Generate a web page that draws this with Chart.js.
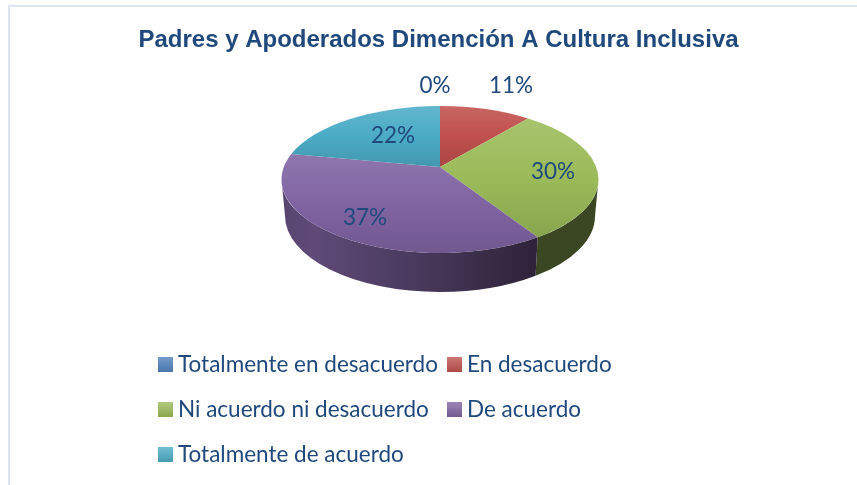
<!DOCTYPE html>
<html><head><meta charset="utf-8">
<style>html,body{margin:0;padding:0;background:#fff}#w{position:relative;width:857px;height:485px}</style>
<script src="https://cdn.jsdelivr.net/npm/chart.js@4"></script>
</head><body><div id="w"><canvas id="c" width="857" height="485"></canvas></div>
<script>
const categories = ['Totalmente en desacuerdo','En desacuerdo','Ni acuerdo ni desacuerdo','De acuerdo','Totalmente de acuerdo'];
const percentages = [0,11,30,37,22];
const sliceColors = ['#4F81BD','#C0504D','#9BBB59','#8064A2','#4BACC6'];
const titleText = 'Padres y Apoderados Dimención A Cultura Inclusiva';

const INK='#1F497D';
const TOP={cx:440,cy:179.5,rx:158.5,ry:73.5,apex:167};
const BOT={cx:440,cy:216,rx:155,ry:76};
const a=(TOP.apex-TOP.cy)/TOP.ry;
const LABEL_POS=[[435,86],[511,86],[553,172],[365,218],[393,136]];
const LEGEND_POS=[[158,357],[447,357],[158,402],[447,402],[158,447]];
function mix(h,t){const n=parseInt(h.slice(1),16);const c=[n>>16,(n>>8)&255,n&255].map(v=>t>0?v+(255-v)*t:v*(1+t));return `rgb(${c.map(Math.round).join(',')})`;}
// map chart angle (canvas radians, -PI/2 = top) to the parameter on the projected ellipse
function proj(ang){
  const u=Math.cos(ang),v=Math.sin(ang),d=1+a*v;
  return Math.atan2((v+a)/d,u*Math.sqrt(1-a*a)/d);
}
function unwrap(t,ref){while(t<ref)t+=2*Math.PI;return t;}
function wall(ctx,t1,t2,fill){
  ctx.beginPath();
  ctx.ellipse(TOP.cx,TOP.cy,TOP.rx,TOP.ry,0,t1,t2);
  ctx.ellipse(BOT.cx,BOT.cy,BOT.rx,BOT.ry,0,t2,t1,true);
  ctx.closePath();ctx.fillStyle=fill;ctx.fill();
}
function yRange(t1,t2){
  let lo=TOP.apex,hi=TOP.apex;
  for(let k=0;k<=40;k++){
    const y=TOP.cy+TOP.ry*Math.sin(t1+(t2-t1)*k/40);
    lo=Math.min(lo,y);hi=Math.max(hi,y);
  }
  return [lo,hi];
}
const pie3d={
  id:'pie3d',
  beforeDatasetDraw(chart,args){
    const ctx=chart.ctx,arcs=args.meta.data;
    ctx.save();
    // side walls: only the front half (param 0..PI)
    arcs.forEach((el,i)=>{
      if(percentages[i]===0)return;
      let t1=proj(el.startAngle),t2=unwrap(proj(el.endAngle),t1);
      const segs=[[t1,t2],[t1+2*Math.PI,t2+2*Math.PI],[t1-2*Math.PI,t2-2*Math.PI]];
      segs.forEach(([s,e])=>{
        const lo=Math.max(s,0),hi=Math.min(e,Math.PI);
        if(hi<=lo)return;
        const g=ctx.createLinearGradient(TOP.cx-TOP.rx,0,TOP.cx+TOP.rx*0.65,0);
        const base=sliceColors[i];
        if(i===3){g.addColorStop(0,mix(base,-0.32));g.addColorStop(0.12,mix(base,-0.26));g.addColorStop(0.5,mix(base,-0.42));g.addColorStop(1,mix(base,-0.66));wall(ctx,lo,hi,g);}
        else wall(ctx,lo,hi,mix(base,-0.62));
      });
    });
    // top face
    arcs.forEach((el,i)=>{
      if(percentages[i]===0)return;
      const t1=proj(el.startAngle),t2=unwrap(proj(el.endAngle),t1);
      const [yLo,yHi]=yRange(t1,t2);
      const g=ctx.createLinearGradient(0,yLo,0,yHi);
      const base=sliceColors[i];
      g.addColorStop(0,mix(base,0.12));g.addColorStop(0.5,base);g.addColorStop(1,mix(base,-0.12));
      ctx.beginPath();ctx.moveTo(TOP.cx,TOP.apex);
      ctx.ellipse(TOP.cx,TOP.cy,TOP.rx,TOP.ry,0,t1,t2);
      ctx.closePath();ctx.fillStyle=g;ctx.fill();
    });
    ctx.restore();
    return false;
  },
  afterDatasetsDraw(chart){
    const ctx=chart.ctx;ctx.save();
    ctx.fillStyle=INK;ctx.font='22.5px Lato';ctx.textAlign='center';ctx.textBaseline='middle';
    percentages.forEach((v,i)=>ctx.fillText(v+'%',LABEL_POS[i][0],LABEL_POS[i][1]));
    ctx.textAlign='left';ctx.textBaseline='alphabetic';
    categories.forEach((t,i)=>{
      const [x,y]=LEGEND_POS[i];
      const g=ctx.createLinearGradient(0,y,0,y+15);
      g.addColorStop(0,mix(sliceColors[i],0.22));g.addColorStop(1,mix(sliceColors[i],-0.1));
      ctx.fillStyle=g;ctx.fillRect(x,y,15,15);
      ctx.fillStyle=INK;ctx.fillText(t,i%2?x+20:x+20,y+15);
    });
    ctx.restore();
  },
  beforeDraw(chart){
    const ctx=chart.ctx;ctx.save();
    ctx.strokeStyle='#DCE6F2';ctx.lineWidth=2;
    ctx.beginPath();ctx.moveTo(9,485);ctx.lineTo(9,6);ctx.lineTo(857,6);ctx.stroke();
    ctx.restore();
  }
};
new Chart(document.getElementById('c'),{
  type:'pie',
  data:{labels:categories,datasets:[{data:percentages,backgroundColor:sliceColors,borderWidth:0}]},
  options:{
    responsive:false,animation:false,
    layout:{padding:{top:26,left:20}},
    plugins:{
      legend:{display:false},tooltip:{enabled:false},
      title:{display:true,text:titleText,color:INK,font:{family:'"Liberation Sans"',size:24,weight:'bold'},padding:{top:0,bottom:0},align:'center',fullSize:true}
    }
  },
  plugins:[pie3d]
});
</script></body></html>
